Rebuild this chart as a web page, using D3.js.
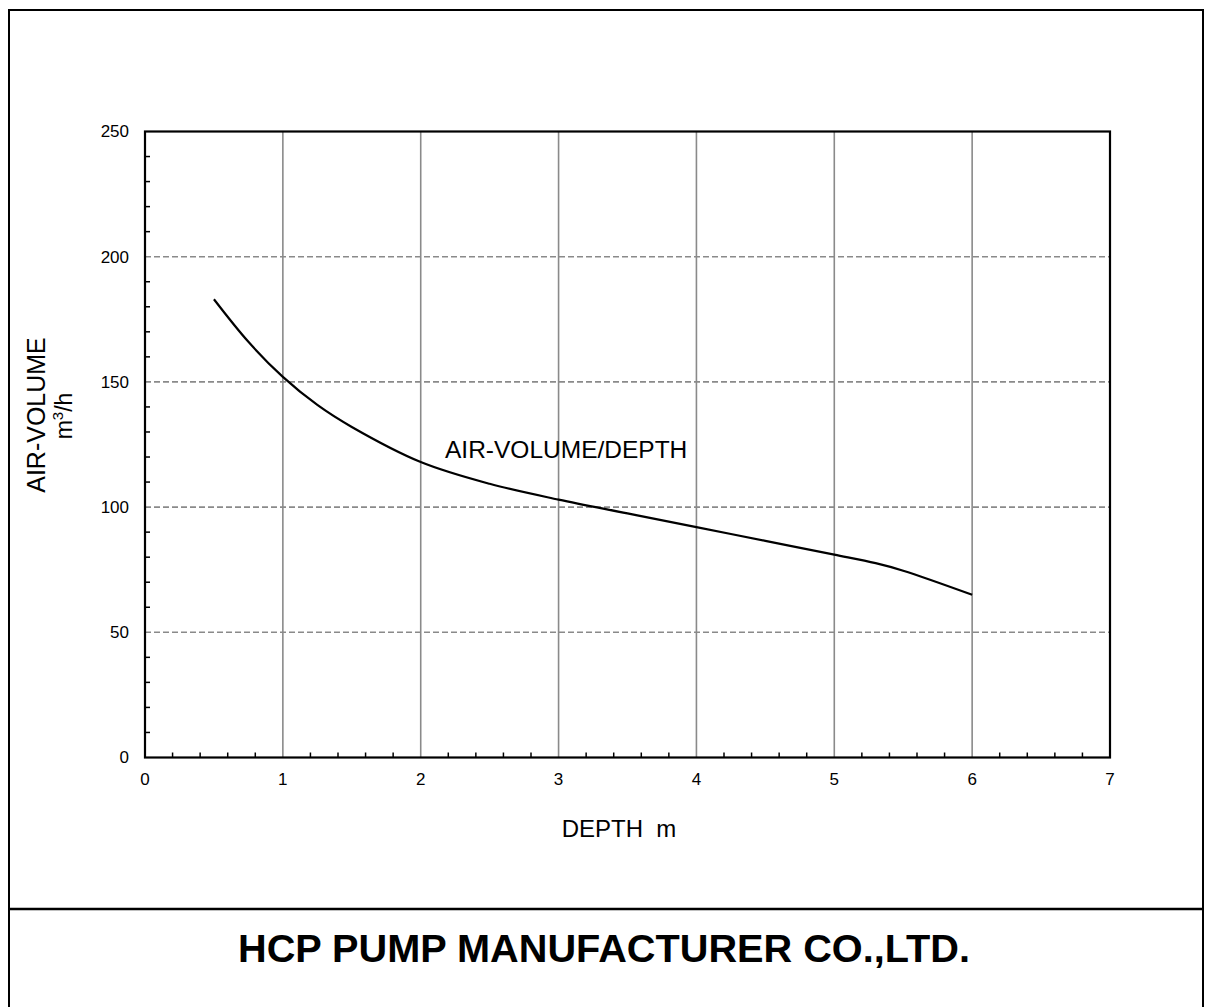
<!DOCTYPE html>
<html><head><meta charset="utf-8">
<script src="https://cdn.jsdelivr.net/npm/d3@7"></script>
<style>body{margin:0;background:#fff;} svg{display:block;font-family:Arial,"Liberation Sans",sans-serif;}</style>
</head><body>
<script>
const depth = [0.5, 0.75, 1, 1.25, 1.5, 2, 2.5, 3, 3.5, 4, 4.5, 5, 5.3, 5.5, 6];
const airVolume = [183, 166, 152, 140.8, 132, 118, 109.3, 103, 97.5, 92, 86.5, 81, 77.6, 74.6, 65];
const xTicks = [0, 1, 2, 3, 4, 5, 6, 7];
const yTicks = [0, 50, 100, 150, 200, 250];
const seriesLabel = "AIR-VOLUME/DEPTH";
const xTitle = "DEPTH\u00a0\u00a0m";
const yTitle = "AIR-VOLUME";
const company = "HCP PUMP MANUFACTURER CO.,LTD.";

const W = 1205, H = 1007;
const svg = d3.select("body").append("svg").attr("width", W).attr("height", H);

// outer frame
svg.append("rect").attr("x", 9).attr("y", 10).attr("width", 1194).attr("height", 1010)
  .attr("fill", "none").attr("stroke", "#000").attr("stroke-width", 2);
svg.append("line").attr("x1", 9).attr("x2", 1203).attr("y1", 909).attr("y2", 909)
  .attr("stroke", "#000").attr("stroke-width", 2.5);

const L = 145, R = 1110, T = 131.5, B = 757.5;
const x = d3.scaleLinear().domain([0, 7]).range([L, R]);
const y = d3.scaleLinear().domain([0, 250]).range([B, T]);

const g = svg.append("g");
// vertical grid
g.selectAll(".vg").data(xTicks.filter(d => d > 0 && d < 7)).join("line")
  .attr("x1", d => x(d)).attr("x2", d => x(d)).attr("y1", T).attr("y2", B)
  .attr("stroke", "#8a8a8a").attr("stroke-width", 1.6);
// horizontal dashed grid
g.selectAll(".hg").data(yTicks.filter(d => d > 0 && d < 250)).join("line")
  .attr("x1", L).attr("x2", R).attr("y1", d => y(d)).attr("y2", d => y(d))
  .attr("stroke", "#8a8a8a").attr("stroke-width", 1.6).attr("stroke-dasharray", "6,3");

// minor ticks
const yMinor = d3.range(0, 251, 10).filter(v => v % 50 !== 0);
g.selectAll(".ym").data(yMinor).join("line")
  .attr("x1", L).attr("x2", L + 5).attr("y1", d => y(d)).attr("y2", d => y(d))
  .attr("stroke", "#000").attr("stroke-width", 1.5);
const xMinor = d3.range(0, 35).map(i => i * 0.2).filter(v => Math.abs(v - Math.round(v)) > 1e-6);
g.selectAll(".xm").data(xMinor).join("line")
  .attr("x1", d => x(d)).attr("x2", d => x(d)).attr("y1", B).attr("y2", B - 5)
  .attr("stroke", "#000").attr("stroke-width", 1.5);

// plot frame
g.append("rect").attr("x", L).attr("y", T).attr("width", R - L).attr("height", B - T)
  .attr("fill", "none").attr("stroke", "#000").attr("stroke-width", 2.2);

// tick labels
g.selectAll(".yl").data(yTicks).join("text")
  .attr("x", L - 16).attr("y", d => y(d)).attr("dy", "0.35em")
  .attr("text-anchor", "end").attr("font-size", 17).text(d => d);
g.selectAll(".xl").data(xTicks).join("text")
  .attr("x", d => x(d)).attr("y", 785)
  .attr("text-anchor", "middle").attr("font-size", 17).text(d => d);

// curve
const pts = depth.map((d, i) => [d, airVolume[i]]);
g.append("path").datum(pts)
  .attr("d", d3.line().x(d => x(d[0])).y(d => y(d[1])).curve(d3.curveCatmullRom.alpha(0.5)))
  .attr("fill", "none").attr("stroke", "#000").attr("stroke-width", 2.2);

// labels
svg.append("text").attr("x", 445).attr("y", 458).attr("font-size", 24.5).text(seriesLabel);
svg.append("text").attr("x", 619).attr("y", 837).attr("text-anchor", "middle").attr("font-size", 24).text(xTitle);
svg.append("text").attr("transform", "translate(45,415) rotate(-90)").attr("text-anchor", "middle")
  .attr("font-size", 25).text(yTitle);
const yt2 = svg.append("text").attr("transform", "translate(72,416) rotate(-90)").attr("text-anchor", "middle")
  .attr("font-size", 23);
yt2.append("tspan").text("m");
yt2.append("tspan").attr("dy", -9).attr("font-size", 15).text("3");
yt2.append("tspan").attr("dy", 9).text("/h");

svg.append("text").attr("x", 604).attr("y", 962).attr("text-anchor", "middle")
  .attr("font-size", 39.7).attr("font-weight", "bold").text(company);
</script>
</body></html>
